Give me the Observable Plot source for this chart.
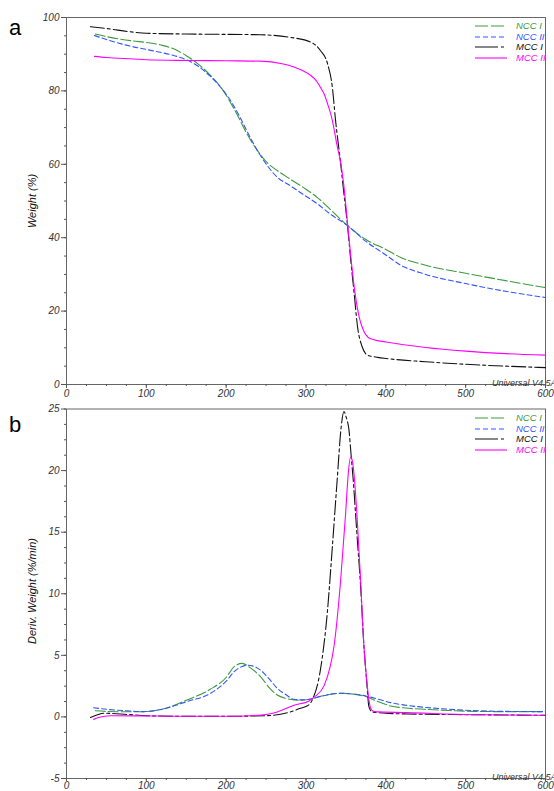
<!DOCTYPE html>
<html>
<head>
<meta charset="utf-8">
<script src="https://cdn.jsdelivr.net/npm/d3@7"></script>
<script src="https://cdn.jsdelivr.net/npm/@observablehq/plot@0.6"></script>
<style>
  html, body { margin: 0; padding: 0; background: #fff; overflow: hidden; width: 554px; height: 791px; }
  #wrap { position: relative; width: 554px; height: 791px; font-family: "Liberation Sans", Arial, sans-serif; }
  #wrap svg { display: block; }
  .panel-letter { position: absolute; left: 9px; font-size: 22px; line-height: 22px; color: #000; }
  .stamp { position: absolute; left: 492px; font-size: 9px; line-height: 9px; font-style: italic; color: #333; white-space: nowrap; }
  .ylabel { position: absolute; font-size: 11px; line-height: 12px; font-style: italic; color: #111; white-space: nowrap; transform: translate(-50%, -50%) rotate(-90deg); }
  .legend { position: absolute; left: 474px; }
  .legend .row { position: relative; height: 10.6px; }
  .legend .row svg { position: absolute; left: 0; top: 0; }
  .legend .row span { position: absolute; left: 42px; top: -1px; font-size: 9.5px; line-height: 11px; font-style: italic; white-space: nowrap; }
</style>
</head>
<body>
<div id="wrap"></div>
<script>
// ---------- categories & styles ----------
const seriesNames = ["NCC I", "NCC II", "MCC I", "MCC II"];
const seriesColors = ["#3c9a3c", "#3355ff", "#111111", "#ff00ff"];
const seriesDashes = ["10,3", "5,3", "14,3,3,3", null];

// ---------- tick labels ----------
const xTicks = [0, 100, 200, 300, 400, 500, 600];
const yTicksA = [0, 20, 40, 60, 80, 100];
const yTicksB = [-5, 0, 5, 10, 15, 20, 25];

// ---------- Panel a : TGA weight (%) ----------
const tgNcc1T = [36,50,84,100,120,135,150,165,180,195,205,215,225,239,252,264,280,300,314,330,352,375,400,418,450,500,550,600];
const tgNcc1W = [95.5,94.8,93.6,93.2,92.4,91.4,89.6,87.3,84.3,80.5,77,73,68.7,63.8,60.3,58.3,56,53.2,51,47.8,43.3,39.5,36.8,34.7,32.5,30.3,28.3,26.4];

const tgNcc2T = [35,50,84,100,120,135,150,165,180,195,205,215,225,239,252,264,280,300,314,330,352,375,400,418,450,500,550,600];
const tgNcc2W = [95.1,94,92,91.3,90.4,89.6,88.5,86.7,84,80.5,77.5,73.8,69.5,63.8,59.5,56.5,54.2,51.3,49.3,46.5,43.3,39,35.3,32.6,30,27.5,25.4,23.7];

const tgMcc1T = [30,50,84,100,150,200,243,280,306,318,327,333,337,343,347,352,356,360,365,370,377,390,400,450,500,550,600];
const tgMcc1W = [97.5,97,96,95.7,95.5,95.4,95.3,94.6,93.3,91,87.4,81,72,61,53,43.3,34,25.5,15,10.5,8,7.4,7.1,6.2,5.5,5,4.6];

const tgMcc2T = [35,50,84,100,150,200,243,270,285,295,306,312,318,323,327,333,339,343,347,352,357,362,367,372,378,385,400,450,500,550,600];
const tgMcc2W = [89.4,89.1,88.7,88.5,88.3,88.2,88.1,87.4,86.5,85.6,84.2,83,81,79,76.5,72,65,61,55,44,33,24,18,14.7,12.8,12.2,11.6,10.1,9.1,8.4,8.0];

// ---------- Panel b : DTG deriv. weight (%/min) ----------
const dtgNcc1T = [36,50,75,97,118,151,180,200,210,220,230,243,255,264,275,285,295,304,320,343,360,375,390,406,425,448,480,510,550,600];
const dtgNcc1V = [0.5,0.45,0.42,0.43,0.6,1.38,2.24,3.2,4.08,4.35,4.0,3.27,2.3,1.78,1.5,1.38,1.36,1.43,1.7,1.92,1.85,1.65,1.25,0.89,0.72,0.62,0.52,0.45,0.43,0.43];

const dtgNcc2T = [34,50,75,97,118,151,180,200,210,220,226,235,243,255,264,275,285,295,304,320,343,360,375,390,406,425,448,480,510,550,600];
const dtgNcc2V = [0.75,0.62,0.5,0.43,0.6,1.25,1.9,2.9,3.67,4.1,4.2,4.1,3.8,3.0,2.32,1.8,1.43,1.38,1.43,1.7,1.92,1.85,1.7,1.45,1.16,0.95,0.78,0.62,0.51,0.45,0.43];

const dtgMcc1T = [30,38,47,76,100,150,200,250,285,293,304,308,318,326.6,333,339,344,347.5,350,353.8,356.7,359.2,363.4,368.4,372.6,375.9,378.8,383,400,427,510,600];
const dtgMcc1V = [-0.05,0.15,0.3,0.2,0.1,0.05,0.05,0.1,0.5,0.7,1.0,1.4,3.8,8.4,13.8,19.2,23.5,24.8,24.4,23.3,21.1,19.2,15.2,10.6,5.7,3.0,0.84,0.4,0.3,0.24,0.18,0.13];

const dtgMcc2T = [34,40,55,100,150,200,230,250,264,285,304,310,322.4,330,335,343.4,349.6,353,355.9,358,360,364.2,368.4,372.6,376.8,381,385,427,510,600];
const dtgMcc2V = [-0.2,-0.05,0.1,0.08,0.05,0.05,0.1,0.2,0.4,0.95,1.3,1.6,2.5,4.0,5.7,11.1,16.5,19.8,21.1,20.8,19.8,16,11.1,5.7,2.5,0.7,0.43,0.35,0.18,0.13];

// ---------- build tables ----------
function table(pairs) {
  return pairs.flatMap(([T, V], i) => T.map((t, j) => ({s: seriesNames[i], t, v: V[j]})));
}
const tgRows = table([[tgNcc1T, tgNcc1W], [tgNcc2T, tgNcc2W], [tgMcc1T, tgMcc1W], [tgMcc2T, tgMcc2W]]);
const dtgRows = table([[dtgNcc1T, dtgNcc1V], [dtgNcc2T, dtgNcc2V], [dtgMcc1T, dtgMcc1V], [dtgMcc2T, dtgMcc2V]]);

const xMinor = d3.range(0, 601, 25);

function panel({rows, yDomain, yTicks, yMinor, height, marginTop, marginBottom, xTickSize, xPad}) {
  const lines = seriesNames.map((name, i) => Plot.line(rows.filter(d => d.s === name), {
    x: "t", y: "v", stroke: seriesColors[i], strokeWidth: 1.1,
    strokeDasharray: seriesDashes[i] || undefined, curve: "monotone-x"
  }));
  return Plot.plot({
    width: 554, height, marginLeft: 66, marginRight: 9, marginTop, marginBottom,
    style: {fontFamily: "'Liberation Sans', Arial, sans-serif", fontSize: "10px", fontStyle: "italic", color: "#333", background: "#fff", overflow: "visible"},
    x: {domain: [0, 600]},
    y: {domain: yDomain},
    marks: [
      Plot.frame({stroke: "#666", strokeWidth: 1}),
      Plot.axisX({ticks: xMinor, tickSize: 2, tickFormat: () => "", label: null, stroke: "#555"}),
      Plot.axisX({ticks: xTicks, tickSize: xTickSize, tickPadding: xPad, tickFormat: d => String(d), label: null, stroke: "#555"}),
      Plot.axisY({ticks: yMinor, tickSize: 2, tickFormat: () => "", label: null, stroke: "#555"}),
      Plot.axisY({ticks: yTicks, tickSize: 5, tickPadding: 2, tickFormat: d => String(d), label: null, stroke: "#555"}),
      ...lines
    ]
  });
}

const wrap = document.getElementById("wrap");
wrap.appendChild(panel({
  rows: tgRows, yDomain: [0, 100], yTicks: yTicksA, yMinor: d3.range(0, 101, 5),
  height: 400, marginTop: 17, marginBottom: 16, xTickSize: 4, xPad: 1
}));
wrap.appendChild(panel({
  rows: dtgRows, yDomain: [-5, 25], yTicks: yTicksB, yMinor: d3.range(-5, 25.01, 1.25),
  height: 391, marginTop: 8.5, marginBottom: 13, xTickSize: 3, xPad: 0
}));

// ---------- overlays: panel letters, axis titles, instrument stamps, legends ----------
function addDiv(cls, text, top, left) {
  const d = document.createElement("div");
  d.className = cls; d.textContent = text; d.style.top = top + "px";
  if (left != null) d.style.left = left + "px";
  wrap.appendChild(d);
  return d;
}
addDiv("panel-letter", "a", 17);
addDiv("panel-letter", "b", 414);
addDiv("ylabel", "Weight (%)", 201, 32);
addDiv("ylabel", "Deriv. Weight (%/min)", 591, 32);
addDiv("stamp", "Universal V4.5A TA", 379);
addDiv("stamp", "Universal V4.5A TA", 773);

function legend(top) {
  const lg = document.createElement("div");
  lg.className = "legend"; lg.style.top = top + "px";
  seriesNames.forEach((name, i) => {
    const row = document.createElement("div");
    row.className = "row";
    const ns = "http://www.w3.org/2000/svg";
    const svg = document.createElementNS(ns, "svg");
    svg.setAttribute("width", 34); svg.setAttribute("height", 10);
    const ln = document.createElementNS(ns, "line");
    ln.setAttribute("x1", 1); ln.setAttribute("x2", 33);
    ln.setAttribute("y1", 5); ln.setAttribute("y2", 5);
    ln.setAttribute("stroke", seriesColors[i]); ln.setAttribute("stroke-width", 1.1);
    const legendDash = ["13,3", "5,3", "23,3,3,3", null][i];
    if (legendDash) ln.setAttribute("stroke-dasharray", legendDash);
    svg.appendChild(ln);
    const sp = document.createElement("span");
    sp.textContent = name; sp.style.color = seriesColors[i];
    row.appendChild(svg); row.appendChild(sp);
    lg.appendChild(row);
  });
  wrap.appendChild(lg);
}
legend(21);
legend(413);
</script>
</body>
</html>
